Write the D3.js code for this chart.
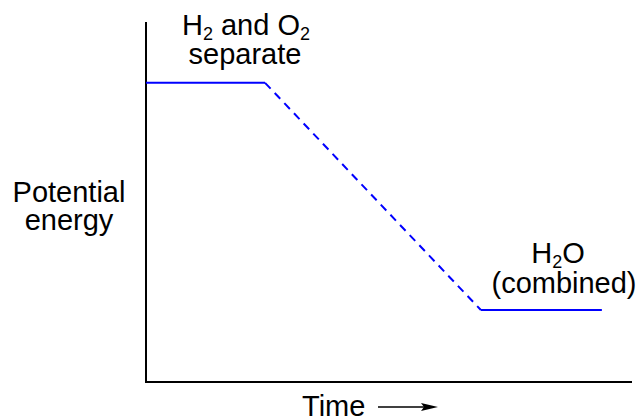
<!DOCTYPE html>
<html>
<head>
<meta charset="utf-8">
<script src="https://cdn.jsdelivr.net/npm/d3@7"></script>
<style>
  body { margin: 0; background: #fff; }
  text { font-family: "Liberation Sans", Arial, sans-serif; fill: #000; }
</style>
</head>
<body>
<svg id="chart"></svg>
<script>
// energy levels over time (arbitrary units)
const levelTime = [0, 2.45, 6.89, 9.38];
const levelEnergy = [8.31, 8.31, 2.0, 2.0];
const segmentStyle = ['solid', 'dashed', 'solid'];

const width = 641, height = 419;
const margin = {left: 146, right: 9, top: 22, bottom: 37};

const svg = d3.select('#chart').attr('width', width).attr('height', height);

const x = d3.scaleLinear().domain([0, 10]).range([margin.left, width - margin.right]);
const y = d3.scaleLinear().domain([0, 10]).range([height - margin.bottom, margin.top]);

// axes as plain lines, no ticks
svg.append('line')
  .attr('x1', x(0)).attr('x2', x(0))
  .attr('y1', y(0)).attr('y2', y(10))
  .attr('stroke', '#000').attr('stroke-width', 2);
svg.append('line')
  .attr('x1', x(0) - 1).attr('x2', x(10))
  .attr('y1', y(0)).attr('y2', y(0))
  .attr('stroke', '#000').attr('stroke-width', 2);

const pts = levelTime.map((t, i) => [t, levelEnergy[i]]);
const line = d3.line().x(d => x(d[0])).y(d => y(d[1]));

segmentStyle.forEach((s, i) => {
  svg.append('path')
    .datum([pts[i], pts[i + 1]])
    .attr('d', line)
    .attr('fill', 'none')
    .attr('stroke', '#0000ff')
    .attr('stroke-width', 2)
    .attr('stroke-dasharray', s === 'dashed' ? '8,6' : null);
});

const fs = 29;
const sub = 18;

// labels
const startLbl = svg.append('text').attr('text-anchor', 'middle').attr('font-size', fs)
  .attr('x', 246).attr('y', 35);
startLbl.append('tspan').text('H');
startLbl.append('tspan').text('2').attr('font-size', sub).attr('dy', 5);
startLbl.append('tspan').text(' and O').attr('dy', -5);
startLbl.append('tspan').text('2').attr('font-size', sub).attr('dy', 5);
svg.append('text').attr('text-anchor', 'middle').attr('font-size', fs)
  .attr('x', 245).attr('y', 64).text('separate');

const endLbl = svg.append('text').attr('text-anchor', 'middle').attr('font-size', fs)
  .attr('x', 558).attr('y', 263);
endLbl.append('tspan').text('H');
endLbl.append('tspan').text('2').attr('font-size', sub).attr('dy', 5);
endLbl.append('tspan').text('O').attr('dy', -5);
svg.append('text').attr('text-anchor', 'middle').attr('font-size', fs)
  .attr('x', 564).attr('y', 293).text('(combined)');

svg.append('text').attr('text-anchor', 'middle').attr('font-size', fs)
  .attr('x', 69).attr('y', 202).text('Potential');
svg.append('text').attr('text-anchor', 'middle').attr('font-size', fs)
  .attr('x', 69).attr('y', 230).text('energy');

svg.append('text').attr('text-anchor', 'start').attr('font-size', fs)
  .attr('x', 302).attr('y', 416).text('Time');

// time arrow
svg.append('line')
  .attr('x1', 378).attr('x2', 426).attr('y1', 407).attr('y2', 407)
  .attr('stroke', '#000').attr('stroke-width', 1.5);
svg.append('path')
  .attr('d', 'M438,407 L421,403 L424,407 L421,411 Z')
  .attr('fill', '#000');
</script>
</body>
</html>
